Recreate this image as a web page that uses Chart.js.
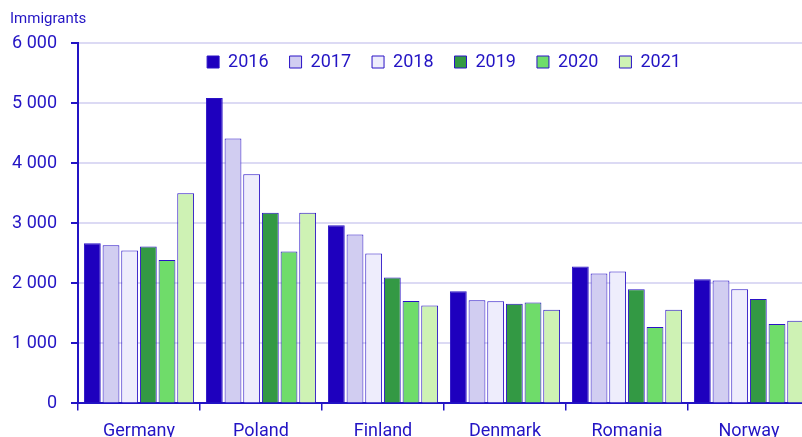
<!DOCTYPE html>
<html>
<head>
<meta charset="utf-8">
<script src="https://cdn.jsdelivr.net/npm/chart.js@4"></script>
<style>
  html, body { margin: 0; padding: 0; overflow: hidden; background: #fff; }
  #wrap { position: relative; width: 815px; height: 452px; }
</style>
</head>
<body>
<div id="wrap"><canvas id="chart"></canvas></div>
<script>
// Data
const countries = ['Germany', 'Poland', 'Finland', 'Denmark', 'Romania', 'Norway'];
const years = ['2016', '2017', '2018', '2019', '2020', '2021'];
const v2016 = [2667, 5083, 2967, 1867, 2278, 2067];
const v2017 = [2633, 4411, 2811, 1717, 2161, 2044];
const v2018 = [2545, 3817, 2494, 1700, 2194, 1900];
const v2019 = [2611, 3172, 2094, 1661, 1900, 1739];
const v2020 = [2389, 2528, 1706, 1678, 1272, 1322];
const v2021 = [3500, 3172, 1628, 1561, 1561, 1378];
const yTicks = [0, 1000, 2000, 3000, 4000, 5000, 6000];

const series = [v2016, v2017, v2018, v2019, v2020, v2021];
const fills = ['#1e00be', '#d1cdf1', '#eeedfc', '#339944', '#6fdc6a', '#cef2b4'];
const ink = '#2314c4';

Chart.defaults.font.family = 'Roboto';
Chart.defaults.color = ink;

const fmt = v => String(v).replace(/\B(?=(\d{3})+(?!\d))/g, ' ');

// keep the legend out of the layout and draw it inside the plot, under the top gridline
const legendInside = {
    id: 'legendInside',
    afterLayout(chart) {
        const l = chart.legend;
        l.top = chart.chartArea.top - 11;
        l.bottom = l.top + 60;
    }
};

new Chart(document.getElementById('chart'), {
    type: 'bar',
    data: {
        labels: countries,
        datasets: series.map((d, i) => ({
            label: years[i],
            data: d,
            backgroundColor: fills[i],
            borderColor: '#2a12c6',
            borderWidth: 1,
            categoryPercentage: 0.918,
            barPercentage: 0.9
        }))
    },
    options: {
        responsive: true,
        maintainAspectRatio: false,
        animation: false,
        layout: { padding: { left: 10, right: 5, top: 0, bottom: 0 } },
        plugins: {
            title: {
                display: true,
                text: 'Immigrants',
                align: 'start',
                color: ink,
                font: { size: 15, weight: 'normal' },
                padding: { top: 10, bottom: 14 }
            },
            legend: {
                position: 'top',
                fullSize: false,
                maxHeight: 1,
                align: 'center',
                labels: {
                    boxWidth: 12,
                    boxHeight: 12,
                    padding: 21,
                    color: ink,
                    font: { size: 18 }
                }
            },
            tooltip: { enabled: false }
        },
        scales: {
            x: {
                grid: {
                    drawOnChartArea: false,
                    drawTicks: true,
                    tickLength: 7,
                    color: ink,
                    lineWidth: 1.5
                },
                border: { color: ink, width: 2 },
                ticks: { color: ink, font: { size: 18 }, padding: 10, maxRotation: 0 }
            },
            y: {
                min: 0,
                max: 6000,
                afterBuildTicks: s => { s.ticks = yTicks.map(v => ({ value: v })); },
                afterFit: s => { s.width = 68; },
                grid: {
                    color: '#dcdaf4',
                    lineWidth: 2,
                    tickColor: ink,
                    tickLength: 7,
                    tickWidth: 2
                },
                border: { color: ink, width: 2 },
                ticks: {
                    color: ink,
                    font: { size: 18 },
                    padding: 14,
                    callback: v => fmt(v)
                }
            }
        }
    },
    plugins: [legendInside]
});
</script>
</body>
</html>
